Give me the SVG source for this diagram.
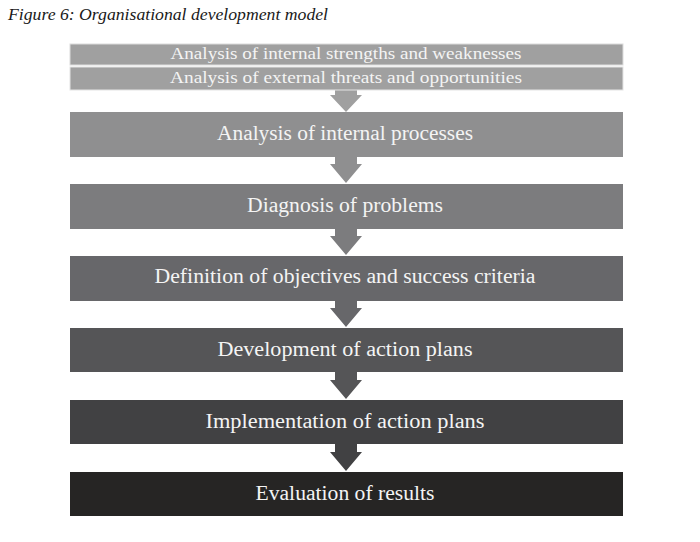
<svg xmlns="http://www.w3.org/2000/svg" width="700" height="542" viewBox="0 0 700 542">
<style>
.t{font-family:"Liberation Serif","Times New Roman",serif;fill:#f4f4f4;text-anchor:middle}
.s{font-size:16px}
.b{font-size:20px}
.title{font-family:"Liberation Serif","Times New Roman",serif;font-style:italic;font-size:16px;fill:#1a1a1a}
</style>
<rect width="700" height="542" fill="#ffffff"/>
<text class="title" x="8" y="20" textLength="320" lengthAdjust="spacingAndGlyphs">Figure 6: Organisational development model</text>
<g id="connectors">
<polygon points="335,90 357,90 357,95 362,95 346,112 330,95 335,95" fill="#a0a0a0"/>
<polygon points="335,157 357,157 357,164 362,164 346,183 330,164 335,164" fill="#8f8f90"/>
<polygon points="335,229 357,229 357,236 362,236 346,255 330,236 335,236" fill="#7c7c7e"/>
<polygon points="335,301 357,301 357,308 362,308 346,327 330,308 335,308" fill="#67676a"/>
<polygon points="335,372 357,372 357,380 362,380 346,399 330,380 335,380" fill="#555557"/>
<polygon points="335,444 357,444 357,452 362,452 346,471 330,452 335,452" fill="#414143"/>
</g>
<g id="n1"><rect x="70" y="44" width="553" height="21" fill="#a0a0a0" stroke="#dcdcdc" stroke-width="1"/><text class="t s" x="346" y="59" textLength="351" lengthAdjust="spacingAndGlyphs">Analysis of internal strengths and weaknesses</text></g>
<g id="n2"><rect x="70" y="67" width="553" height="23" fill="#a0a0a0" stroke="#e4e4e4" stroke-width="1"/><text class="t s" x="346" y="83" textLength="352" lengthAdjust="spacingAndGlyphs">Analysis of external threats and opportunities</text></g>
<g id="n3"><rect x="70" y="112" width="553" height="45" fill="#8f8f90"/><text class="t b" x="345" y="140" textLength="256" lengthAdjust="spacingAndGlyphs">Analysis of internal processes</text></g>
<g id="n4"><rect x="70" y="184" width="553" height="45" fill="#7c7c7e"/><text class="t b" x="345" y="212" textLength="196" lengthAdjust="spacingAndGlyphs">Diagnosis of problems</text></g>
<g id="n5"><rect x="70" y="256" width="553" height="45" fill="#67676a"/><text class="t b" x="345" y="283" textLength="381" lengthAdjust="spacingAndGlyphs">Definition of objectives and success criteria</text></g>
<g id="n6"><rect x="70" y="328" width="553" height="44" fill="#555557"/><text class="t b" x="345" y="356" textLength="255" lengthAdjust="spacingAndGlyphs">Development of action plans</text></g>
<g id="n7"><rect x="70" y="400" width="553" height="44" fill="#414143"/><text class="t b" x="345" y="428" textLength="279" lengthAdjust="spacingAndGlyphs">Implementation of action plans</text></g>
<g id="n8"><rect x="70" y="472" width="553" height="44" fill="#262524"/><text class="t b" x="345" y="500" textLength="179" lengthAdjust="spacingAndGlyphs">Evaluation of results</text></g>
</svg>
